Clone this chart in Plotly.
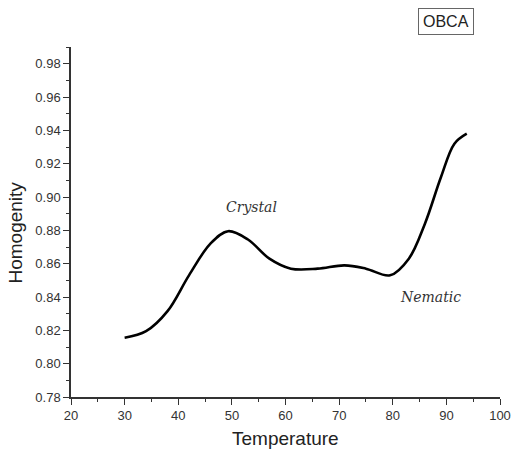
import plotly.graph_objects as go

# Homogenity of OBCA versus temperature
temperature = [30.0, 34.0, 38.0, 42.0, 46.0, 49.3, 53.0, 57.0, 61.0, 66.0,
               71.0, 75.0, 79.5, 83.0, 86.0, 89.0, 91.5, 93.8]
homogenity = [0.8155, 0.8195, 0.8315, 0.853, 0.872, 0.8795, 0.8745, 0.863,
              0.857, 0.857, 0.859, 0.857, 0.853, 0.863, 0.884, 0.912, 0.932,
              0.938]

phase_labels = ["Crystal", "Nematic"]
phase_x = [53.6, 87.1]
phase_y = [0.894, 0.840]

x_ticks = list(range(20, 101, 10))
y_ticks = [0.78, 0.80, 0.82, 0.84, 0.86, 0.88, 0.90, 0.92, 0.94, 0.96, 0.98]

fig = go.Figure()
fig.add_trace(go.Scatter(
    x=temperature, y=homogenity, mode="lines",
    line=dict(color="black", width=2.6, shape="spline", smoothing=1.0),
    showlegend=False, hoverinfo="skip",
))

for text, x, y in zip(phase_labels, phase_x, phase_y):
    fig.add_annotation(x=x, y=y, text=f"<i>{text}</i>", showarrow=False,
                       font=dict(family="DejaVu Serif", size=14, color="#333333"))

# Sample name box in the upper right
fig.add_annotation(xref="paper", yref="paper", x=0.873, y=1.072,
                   xanchor="center", yanchor="middle", text="OBCA",
                   showarrow=False, bordercolor="#666666", borderwidth=1,
                   borderpad=4, bgcolor="white",
                   font=dict(family="Liberation Sans", size=16, color="#222222"))

# Axis titles
fig.add_annotation(xref="paper", yref="paper", x=-0.1305, y=0.47,
                   xanchor="center", yanchor="middle", text="Homogenity",
                   textangle=-90, showarrow=False,
                   font=dict(family="Liberation Sans", size=19, color="#222222"))
fig.add_annotation(xref="paper", yref="paper", x=0.5, y=-0.118,
                   xanchor="center", yanchor="middle", text="Temperature",
                   showarrow=False,
                   font=dict(family="Liberation Sans", size=19, color="#222222"))

axis_common = dict(
    showline=True, linecolor="#333333", linewidth=1.5, mirror=False,
    showgrid=False, zeroline=False, ticks="outside", ticklen=6,
    tickwidth=1.3, tickcolor="#333333", automargin=False,
    tickfont=dict(family="Liberation Sans", size=13, color="#333333"),
)

fig.update_xaxes(
    range=[20, 100], tickvals=x_ticks, ticktext=[str(v) for v in x_ticks],
    minor=dict(dtick=5, tick0=20, ticklen=3, ticks="outside",
               tickcolor="#333333", tickwidth=1.2),
    **axis_common,
)
fig.update_yaxes(
    range=[0.78, 0.99], tickvals=y_ticks, ticktext=[f"{v:.2f}" for v in y_ticks],
    minor=dict(dtick=0.01, tick0=0.78, ticklen=3, ticks="outside",
               tickcolor="#333333", tickwidth=1.2),
    **axis_common,
)

fig.update_layout(
    width=511, height=450,
    margin=dict(l=71, r=11, t=47, b=53),
    plot_bgcolor="white", paper_bgcolor="white",
)

fig.write_html("out.html")
